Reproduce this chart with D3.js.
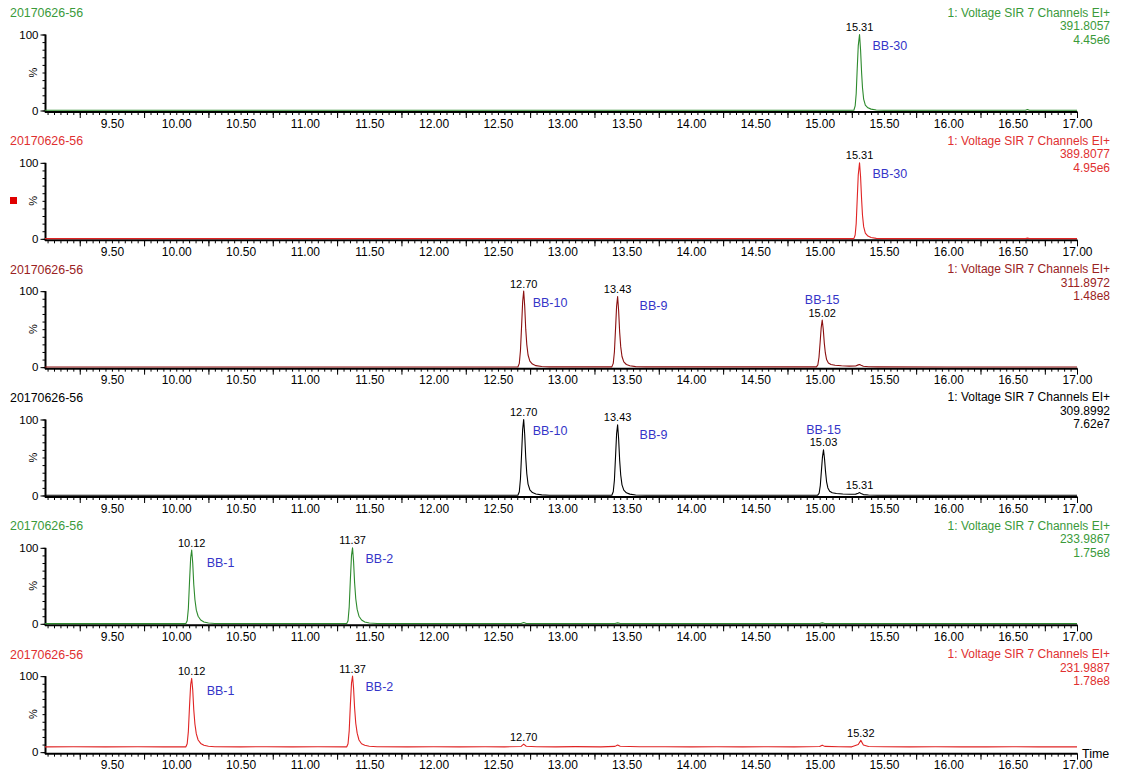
<!DOCTYPE html>
<html>
<head>
<meta charset="utf-8">
<script src="https://cdn.jsdelivr.net/npm/d3@7"></script>
<style>
  html, body { margin: 0; padding: 0; background: #fff; }
  svg { display: block; font-family: "Liberation Sans", Arial, sans-serif; }
</style>
</head>
<body>
<svg id="chart" width="1121" height="771"></svg>
<script>
// ---- SIR chromatogram data: retention time (min) vs relative intensity (%) ----
const sampleName = "20170626-56";
const functionTitle = "1: Voltage SIR 7 Channels EI+";
const channelMasses = ["391.8057", "389.8077", "311.8972", "309.8992", "233.9867", "231.9887"];
const channelIntensities = ["4.45e6", "4.95e6", "1.48e8", "7.62e7", "1.75e8", "1.78e8"];
const timeTicks = ["9.50", "10.00", "10.50", "11.00", "11.50", "12.00", "12.50", "13.00",
                   "13.50", "14.00", "14.50", "15.00", "15.50", "16.00", "16.50", "17.00"];

const trace391 = [[8.98,0.3],[10.0,0.3],[11.0,0.3],[12.0,0.3],[13.0,0.3],[14.0,0.3],[15.266,0.3],
  [15.276,6],[15.284,22],[15.292,55],[15.300,85],[15.31,100],[15.318,80],[15.326,50],[15.333,30],
  [15.342,15],[15.355,7],[15.375,3.5],[15.40,1.8],[15.44,0.6],[15.5,0.3],[16.0,0.3],[16.6,0.3],
  [16.615,1.3],[16.63,0.3],[17.0,0.3]];

const trace389 = [[8.98,0.3],[10.0,0.3],[11.0,0.3],[12.0,0.3],[13.0,0.3],[14.0,0.3],[15.266,0.3],
  [15.276,5],[15.284,20],[15.292,52],[15.300,84],[15.31,100],[15.318,82],[15.326,52],[15.333,31],
  [15.342,16],[15.355,7.5],[15.375,3.6],[15.40,1.8],[15.44,0.6],[15.5,0.3],[16.0,0.3],[16.6,0.3],
  [16.615,0.9],[16.63,0.3],[17.0,0.3]];

const trace311 = [[8.98,0.3],[10.0,0.3],[11.0,0.3],[12.0,0.3],[12.655,0.3],[12.666,5],[12.675,22],
  [12.684,55],[12.692,86],[12.70,100],[12.708,80],[12.716,50],[12.724,30],[12.734,16],[12.748,8],
  [12.768,4],[12.795,2],[12.84,0.8],[12.9,0.4],[13.385,0.4],[13.396,5],[13.405,20],[13.414,51],
  [13.422,80],[13.43,93],[13.438,74],[13.446,46],[13.454,27],[13.464,14],[13.478,7],[13.498,3.5],
  [13.525,1.8],[13.57,0.7],[13.65,0.4],[14.975,0.4],[14.986,3],[14.995,13],[15.004,33],[15.012,52],
  [15.02,62],[15.028,50],[15.036,32],[15.044,19],[15.054,10],[15.068,5.5],[15.088,3.5],[15.12,2.5],
  [15.17,1.8],[15.23,1.4],[15.28,1.6],[15.30,3],[15.31,3.5],[15.322,2.5],[15.34,1.2],[15.38,0.6],
  [15.45,0.4],[16.0,0.3],[17.0,0.3]];

const trace309 = [[8.98,0.3],[10.0,0.3],[11.0,0.3],[12.0,0.3],[12.655,0.3],[12.666,5],[12.675,22],
  [12.684,56],[12.692,87],[12.70,100],[12.708,80],[12.716,50],[12.724,29],[12.734,15],[12.748,7.5],
  [12.768,3.8],[12.795,2],[12.84,0.8],[12.9,0.4],[13.385,0.4],[13.396,5],[13.405,20],[13.414,52],
  [13.422,81],[13.43,93],[13.438,74],[13.446,46],[13.454,27],[13.464,14],[13.478,7],[13.498,3.5],
  [13.525,1.8],[13.57,0.7],[13.65,0.4],[14.985,0.4],[14.996,3],[15.005,13],[15.014,33],[15.022,51],
  [15.03,60],[15.038,48],[15.046,31],[15.054,18],[15.064,10],[15.078,5.5],[15.098,3.5],[15.13,2.6],
  [15.18,2],[15.24,1.6],[15.28,1.8],[15.30,3],[15.31,3.8],[15.322,2.6],[15.34,1.2],[15.38,0.6],
  [15.45,0.4],[16.0,0.3],[17.0,0.3]];

const trace233 = [[8.98,0.3],[9.5,0.3],[10.075,0.3],[10.085,4],[10.094,20],[10.103,55],[10.112,87],
  [10.12,97],[10.128,80],[10.136,52],[10.145,32],[10.156,18],[10.17,10],[10.19,5],[10.215,2.5],
  [10.25,1],[10.3,0.4],[11.325,0.4],[11.335,4],[11.344,22],[11.353,58],[11.362,90],[11.37,100],
  [11.378,82],[11.386,54],[11.395,33],[11.406,19],[11.42,10],[11.44,5],[11.465,2.5],[11.5,1],
  [11.56,0.4],[12.68,0.4],[12.70,1.8],[12.72,0.5],[13.41,0.4],[13.43,1.2],[13.45,0.4],[15.0,0.4],
  [15.02,1.2],[15.04,0.4],[16.0,0.4],[17.0,0.4]];

const trace231 = [[8.98,7],[9.2,7.2],[9.45,6.9],[9.7,7.1],[9.9,7],[10.075,7],[10.085,11],[10.094,27],
  [10.103,60],[10.112,89],[10.12,97],[10.128,82],[10.136,56],[10.145,37],[10.156,24],[10.17,16],
  [10.19,11.5],[10.215,9],[10.25,7.8],[10.3,7.2],[10.5,7],[10.7,7.1],[10.9,6.9],[11.1,7.1],
  [11.325,7],[11.335,11],[11.344,28],[11.353,62],[11.362,91],[11.37,100],[11.378,84],[11.386,58],
  [11.395,38],[11.406,25],[11.42,16],[11.44,11],[11.465,9],[11.5,7.8],[11.56,7.2],[11.8,7],
  [12.0,7.1],[12.2,6.9],[12.4,7.1],[12.55,7],[12.68,7.5],[12.70,10.5],[12.72,7.8],[12.8,7.2],
  [12.95,7],[13.1,7.3],[13.3,7],[13.41,7.6],[13.43,9.5],[13.45,7.8],[13.6,7.1],[13.8,7.2],
  [14.0,6.9],[14.2,7.2],[14.4,7],[14.6,7.1],[14.8,6.9],[15.0,7.5],[15.02,9.2],[15.04,7.6],
  [15.15,7.1],[15.25,7],[15.30,10],[15.32,15.5],[15.34,9.5],[15.38,7.4],[15.5,7.1],[15.7,7],
  [15.9,7.1],[16.1,7],[16.3,7],[16.5,7.1],[16.7,7],[16.9,7],[17.0,7]];

// labelled peaks per channel: retention time and compound name ("" = time only)
const peaks391 = [[15.31, "BB-30"]];
const peaks389 = [[15.31, "BB-30"]];
const peaks311 = [[12.70, "BB-10"], [13.43, "BB-9"], [15.02, "BB-15"]];
const peaks309 = [[12.70, "BB-10"], [13.43, "BB-9"], [15.03, "BB-15"], [15.31, ""]];
const peaks233 = [[10.12, "BB-1"], [11.37, "BB-2"]];
const peaks231 = [[10.12, "BB-1"], [11.37, "BB-2"], [12.70, ""], [15.32, ""]];

// ---- styling / layout ----
const traces = [trace391, trace389, trace311, trace309, trace233, trace231];
const peakSets = [peaks391, peaks389, peaks311, peaks309, peaks233, peaks231];
const lineColors = ["#2d8a2d", "#e02424", "#8b1010", "#000000", "#2d8a2d", "#e02424"];
const textColors = ["#3a9a3a", "#e03030", "#9a2222", "#000000", "#3a9a3a", "#e03030"];
const nameColor = "#3535c8";
// compound label offset from apex: [dx, dy of baseline, anchor]
const nameOffsets = {
  "BB-30": [13, 15, "start"], "BB-10": [9, 16, "start"], "BB-9": [22, 14, "start"],
  "BB-15": [0, -16, "middle"], "BB-1": [15, 17, "start"], "BB-2": [13, 15, "start"]
};

const svg = d3.select("#chart");
const x = d3.scaleLinear().domain([8.98, 17.0]).range([45, 1077]);
const panelStep = 128.33;
const font = "'Liberation Sans', Arial, sans-serif";

const minorTicks = d3.range(180, 341).map(i => i / 20);
const longTicks = d3.range(185, 341, 10).map(i => i / 20).concat([17.0]);
const labelTicks = timeTicks.map(Number);

traces.forEach((trace, k) => {
  const top = 34.5 + panelStep * k;
  const bottom = 110.5 + panelStep * k;
  const y = d3.scaleLinear().domain([0, 100]).range([bottom, top]);
  const g = svg.append("g");

  // header texts
  g.append("text").attr("x", 10).attr("y", 17 + panelStep * k)
    .attr("font-size", 12.4).attr("fill", textColors[k]).text(sampleName);
  [functionTitle, channelMasses[k], channelIntensities[k]].forEach((t, i) => {
    g.append("text").attr("x", 1110).attr("y", 16.5 + 13.5 * i + panelStep * k)
      .attr("text-anchor", "end").attr("font-size", 12).attr("fill", textColors[k]).text(t);
  });

  // y axis
  const yMinor = d3.axisLeft(y).tickValues(d3.range(0, 101, 10)).tickSize(3).tickFormat("");
  const yMajor = d3.axisLeft(y).tickValues([0, 100]).tickSize(5).tickPadding(2);
  const ya = g.append("g").attr("transform", "translate(45.5,0)").call(yMinor);
  ya.select(".domain").remove();
  const yb = g.append("g").attr("transform", "translate(45.5,0)").call(yMajor);
  yb.select(".domain").remove();
  yb.selectAll("text").attr("font-size", 11.5).attr("font-family", font).attr("fill", "#000");
  [ya, yb].forEach(a => a.selectAll("line").attr("stroke", "#000"));
  g.append("line").attr("x1", 45.5).attr("x2", 45.5).attr("y1", top).attr("y2", bottom + 2)
    .attr("stroke", "#000").attr("stroke-width", 2);
  g.append("text").attr("transform", `translate(37,${(top + bottom) / 2}) rotate(-90)`)
    .attr("text-anchor", "middle").attr("font-size", 11).attr("fill", "#000").text("%");

  // x axis
  const xa = d3.axisBottom(x).tickValues(minorTicks).tickSize(3).tickFormat("");
  const xb = d3.axisBottom(x).tickValues(longTicks).tickSize(6).tickFormat("");
  const xc = d3.axisBottom(x).tickValues(labelTicks).tickSize(0).tickPadding(7)
    .tickFormat(d => d3.format(".2f")(d));
  [xa, xb, xc].forEach(ax => {
    const sel = g.append("g").attr("transform", `translate(0,${bottom + 1.5})`).call(ax);
    sel.select(".domain").remove();
    sel.selectAll("line").attr("stroke", "#000");
    sel.selectAll("text").attr("font-size", 12).attr("font-family", font).attr("fill", "#000");
  });
  g.append("line").attr("x1", 45).attr("x2", 1077.5).attr("y1", bottom + 1.5).attr("y2", bottom + 1.5)
    .attr("stroke", "#000").attr("stroke-width", 2);

  // trace
  const line = d3.line().x(d => x(d[0])).y(d => y(d[1]));
  g.append("path").datum(trace).attr("d", line).attr("fill", "none")
    .attr("stroke", lineColors[k]).attr("stroke-width", 1.1).attr("stroke-linejoin", "round");

  // peak annotations
  peakSets[k].forEach(([rt, name]) => {
    const apex = trace.find(p => Math.abs(p[0] - rt) < 1e-9);
    const ax = x(apex[0]), ay = y(apex[1]);
    g.append("text").attr("x", ax).attr("y", ay - 3.5).attr("text-anchor", "middle")
      .attr("font-size", 11).attr("fill", "#000").text(rt.toFixed(2));
    if (name) {
      const [dx, dy, anchor] = nameOffsets[name];
      g.append("text").attr("x", ax + dx).attr("y", ay + dy).attr("text-anchor", anchor)
        .attr("font-size", 12.5).attr("fill", nameColor).text(name);
    }
  });

  if (k === 1) {
    g.append("rect").attr("x", 10).attr("y", 197).attr("width", 7).attr("height", 7).attr("fill", "#e00000");
  }
  if (k === traces.length - 1) {
    g.append("text").attr("x", 1082).attr("y", bottom + 6).attr("font-size", 12.5)
      .attr("fill", "#000").text("Time");
  }
});
</script>
</body>
</html>
